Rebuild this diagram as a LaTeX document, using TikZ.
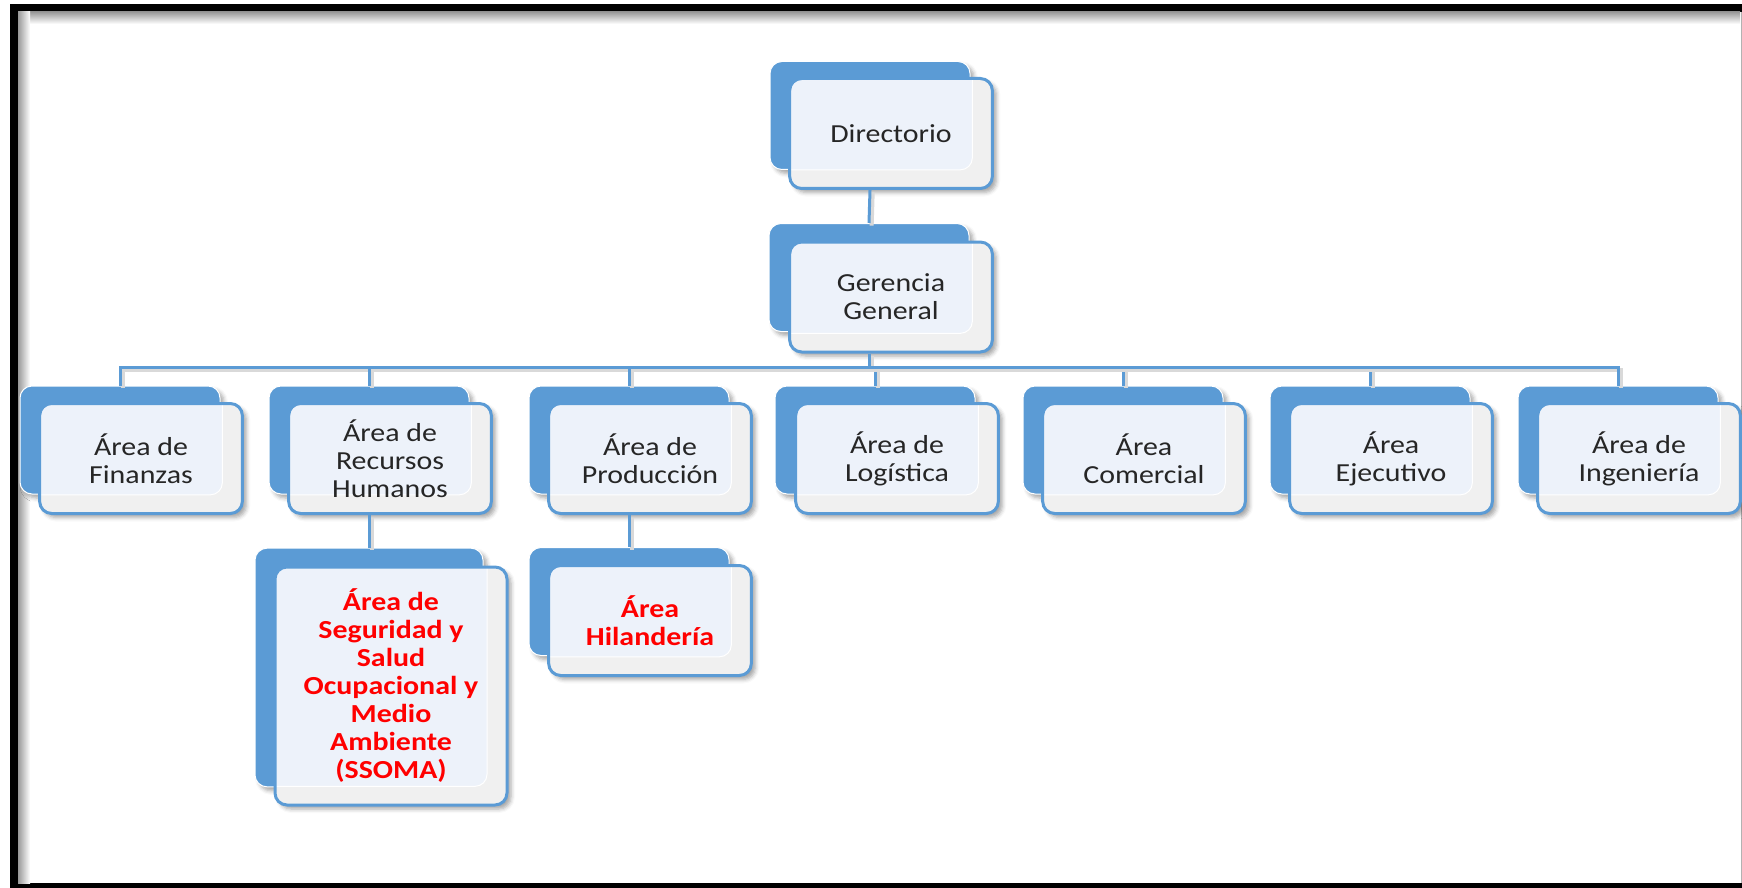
\documentclass[tikz,border=0pt]{standalone}
\usepackage{fontspec}
\setmainfont{Carlito}[FakeStretch=1.15]
\usetikzlibrary{shadows.blur}

\definecolor{azul}{RGB}{91,155,213}
\definecolor{celeste}{RGB}{237,242,250}
\definecolor{grisclaro}{RGB}{240,240,240}
\definecolor{rojo}{RGB}{255,0,0}

\tikzset{every picture/.style={line width=0.75pt}}
\tikzset{
  sombra/.style={blur shadow={shadow xshift=3pt,shadow yshift=-3pt,shadow blur radius=3pt,shadow opacity=35}},
  atras/.style={sombra, fill=azul, draw=white, line width=0.75pt, rounded corners=9pt, inner sep=0pt, minimum width=150pt, minimum height=81pt},
  frente/.style={sombra, fill=grisclaro, draw=azul, line width=2.25pt, rounded corners=9pt, inner sep=0pt, align=center,
    minimum width=152pt, minimum height=82.5pt, text=black!85, font=\fontsize{19.5}{21}\selectfont,
    path picture={\filldraw[fill=celeste, draw=white, line width=0.75pt, rounded corners=9pt]
      ([xshift=-20pt,yshift=20pt]path picture bounding box.north west) rectangle
      ([xshift=-15pt,yshift=14pt]path picture bounding box.south east);}},
  destacado/.style={text=rojo, font=\bfseries\fontsize{19.5}{21}\selectfont},
  linea/.style={draw=azul, line width=2.25pt, preaction={draw=black!15, line width=3pt, transform canvas={shift={(2pt,-2pt)}}}},
}

\begin{document}
\begin{tikzpicture}[x=0.75pt,y=0.75pt,yscale=-1,xscale=1]
	\useasboundingbox (0,0) rectangle (1742,888);

	% Frame
	\fill[black] (10,4) rectangle (1742,12);
	\fill[black] (10,4) rectangle (18,888);
	\fill[black] (10,883) rectangle (1742,888);
	\shade[top color=black!40, bottom color=white] (18,12) rectangle (1740,24);
	\shade[left color=black!40, right color=white] (18,12) rectangle (30,883);
	\draw[black!30] (1741,12) -- (1741,883);

	% Back boxes
	\node[atras] (dirA) at (870,115.5) {};
	\node[atras] (gerA) at (869,277.5) {};
	\node[atras] (finA) at (120,440) {};
	\node[atras] (rrhhA) at (369,440) {};
	\node[atras] (prodA) at (629,440) {};
	\node[atras] (logA) at (875,440) {};
	\node[atras] (comA) at (1123,440) {};
	\node[atras] (ejeA) at (1370,440) {};
	\node[atras] (ingA) at (1618,440) {};
	\node[atras, minimum width=171pt, minimum height=179pt] (ssomaA) at (369,667.5) {};
	\node[atras] (hilA) at (629,601.5) {};

	% Front boxes
	\node[frente] (dir) at (891,133.5) {Directorio};
	\node[frente] (ger) at (891,297) {Gerencia\\General};
	\node[frente] (fin) at (141,458.5) {Área de\\Finanzas};
	\node[frente] (rrhh) at (390,458.5) {Área de\\Recursos\\Humanos};
	\node[frente] (prod) at (650,458.5) {Área de\\Producción};
	\node[frente] (log) at (897,458.5) {Área de\\Logística};
	\node[frente] (com) at (1144,458.5) {Área\\Comercial};
	\node[frente] (eje) at (1391,458.5) {Área\\Ejecutivo};
	\node[frente] (ing) at (1639,458.5) {Área de\\Ingeniería};
	\node[frente, destacado, minimum width=174pt, minimum height=178.5pt] (ssoma) at (391,686) {Área de\\Seguridad y\\Salud\\Ocupacional y\\Medio\\Ambiente\\(SSOMA)};
	\node[frente, destacado] (hil) at (650,620.5) {Área\\Hilandería};

	% Connectors
	\draw[linea] (dir.south -| dirA.south) -- (gerA.north);
	\coordinate (bus) at (869,367);
	\draw[linea] (ger.south -| gerA.south) -- (bus);
	\foreach \n in {finA,rrhhA,prodA,logA,comA,ejeA,ingA}
		\draw[linea] (bus) -| (\n.north);
	\draw[linea] (rrhh.south -| rrhhA.south) -- (ssomaA.north);
	\draw[linea] (prod.south -| prodA.south) -- (hilA.north);

\end{tikzpicture}
\end{document}
